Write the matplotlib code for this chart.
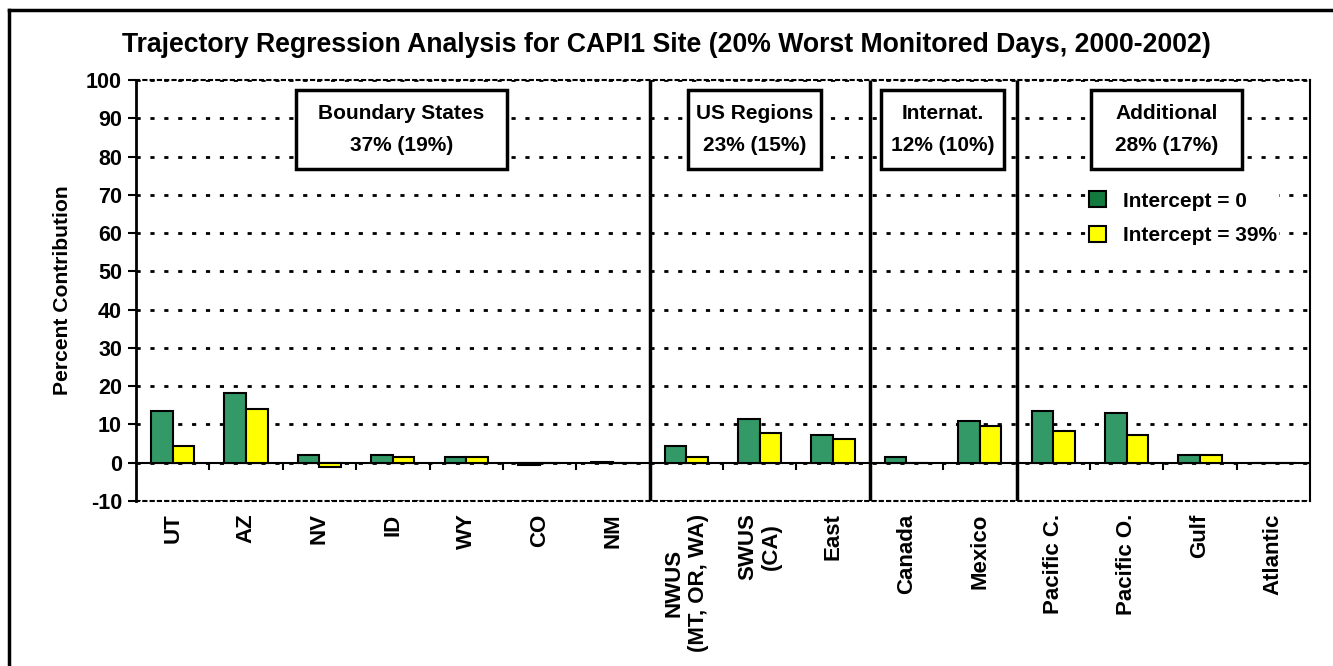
import numpy as np
import matplotlib
matplotlib.use("Agg")
import matplotlib.pyplot as plt
from matplotlib.patches import Rectangle
from matplotlib.lines import Line2D

plt.rcParams['font.family'] = ['Liberation Sans', 'DejaVu Sans']
plt.rcParams['font.weight'] = 'bold'
plt.rcParams['axes.unicode_minus'] = False

categories = ['UT', 'AZ', 'NV', 'ID', 'WY', 'CO', 'NM',
              'NWUS\n(MT, OR, WA)', 'SWUS\n(CA)', 'East',
              'Canada', 'Mexico',
              'Pacific C.', 'Pacific O.', 'Gulf', 'Atlantic']
intercept_0 = [13.4, 18.1, 2.1, 2.1, 1.4, -0.5, 0.3, 4.5, 11.3, 7.2, 1.5, 10.9, 13.4, 12.9, 2.0, 0.0]
intercept_39 = [4.5, 14.0, -1.0, 1.4, 1.4, 0.0, 0.0, 1.5, 7.7, 6.2, 0.0, 9.7, 8.2, 7.2, 2.0, 0.0]
group_names = ['Boundary States\n37% (19%)', 'US Regions\n23% (15%)',
               'Internat.\n12% (10%)', 'Additional\n28% (17%)']
group_edges = [6.5, 9.5, 11.5]

GREEN = '#339966'
YELLOW = '#ffff00'

fig = plt.figure(figsize=(13.33, 6.66), dpi=100)
ax = fig.add_axes([136 / 1333, 1 - 501 / 666, 1174 / 1333, 421 / 666])

x = np.arange(len(categories))
w = 0.295
b1 = ax.bar(x - w / 2, intercept_0, w, color=GREEN, edgecolor='black', linewidth=1.5,
            label='Intercept = 0', zorder=3)
b2 = ax.bar(x + w / 2, intercept_39, w, color=YELLOW, edgecolor='black', linewidth=1.5,
            label='Intercept = 39%', zorder=3)

ax.set_xlim(-0.5, len(categories) - 0.5)
ax.set_ylim(-10, 100)
ax.set_yticks(range(-10, 101, 10))
ax.yaxis.grid(True, linestyle=(0, (1.5, 3.5)), linewidth=2, color='black', zorder=1)
ax.set_axisbelow(True)

# zero line and little ticks on it
ax.axhline(0, color='black', linewidth=1.5, zorder=2)
ax.vlines(np.arange(0.5, len(categories), 1), -1.8, 0, color='black', linewidth=1.5, zorder=2)

# group separators
ax.vlines(group_edges, -10, 100, color='black', linewidth=2.5, zorder=4)

for s in ['top', 'bottom']:
    ax.spines[s].set_linestyle((0, (1.5, 2)))
    ax.spines[s].set_linewidth(1.5)
ax.spines['left'].set_linewidth(2)
ax.spines['right'].set_linewidth(1.5)

ax.set_xticks(x)
ax.set_xticklabels(categories, rotation=90, fontsize=16, fontweight='bold',
                   ha='center', va='top', multialignment='center')
ax.tick_params(axis='x', length=0, pad=9)
ax.tick_params(axis='y', direction='out', length=6, width=1.5, labelsize=15.5, pad=4)
for t in ax.get_yticklabels():
    t.set_fontweight('bold')

ax.set_ylabel('Percent Contribution', fontsize=15.2, fontweight='bold', labelpad=10)

# group boxes (x0, x1 in category units)
box_spans = [(1.68, 4.55), (7.02, 8.84), (9.65, 11.33), (12.51, 14.57)]
for (x0, x1), name in zip(box_spans, group_names):
    ax.add_patch(Rectangle((x0, 76.8), x1 - x0, 20.6, facecolor='white',
                           edgecolor='black', linewidth=2.5, zorder=5))
    ax.text((x0 + x1) / 2, 87.1, name, ha='center', va='center', fontsize=15,
            fontweight='bold', linespacing=1.85, zorder=6)

leg = ax.legend(handles=[b1, b2], loc='upper left', bbox_to_anchor=(0.801, 0.765),
                frameon=True, fancybox=False, edgecolor='none', facecolor='white',
                framealpha=1, fontsize=15, handlelength=0.8, handleheight=0.8,
                handletextpad=0.85, borderpad=0.1, labelspacing=0.75)
for t in leg.get_texts():
    t.set_fontweight('bold')
leg.legend_handles[0].set_facecolor('#137a3e')
leg.set_zorder(6)

fig.text(0.5, 1 - 45 / 666,
         'Trajectory Regression Analysis for CAPI1 Site (20% Worst Monitored Days, 2000-2002)',
         ha='center', va='center', fontsize=19.2, fontweight='bold')

# outer frame (left and top edges visible)
fig.add_artist(Line2D([9 / 1333, 9 / 1333], [0, 1 - 10 / 666], transform=fig.transFigure,
                      color='black', linewidth=2.5))
fig.add_artist(Line2D([9 / 1333, 1], [1 - 10 / 666, 1 - 10 / 666], transform=fig.transFigure,
                      color='black', linewidth=2.5))

fig.savefig('out.png', dpi=100)
